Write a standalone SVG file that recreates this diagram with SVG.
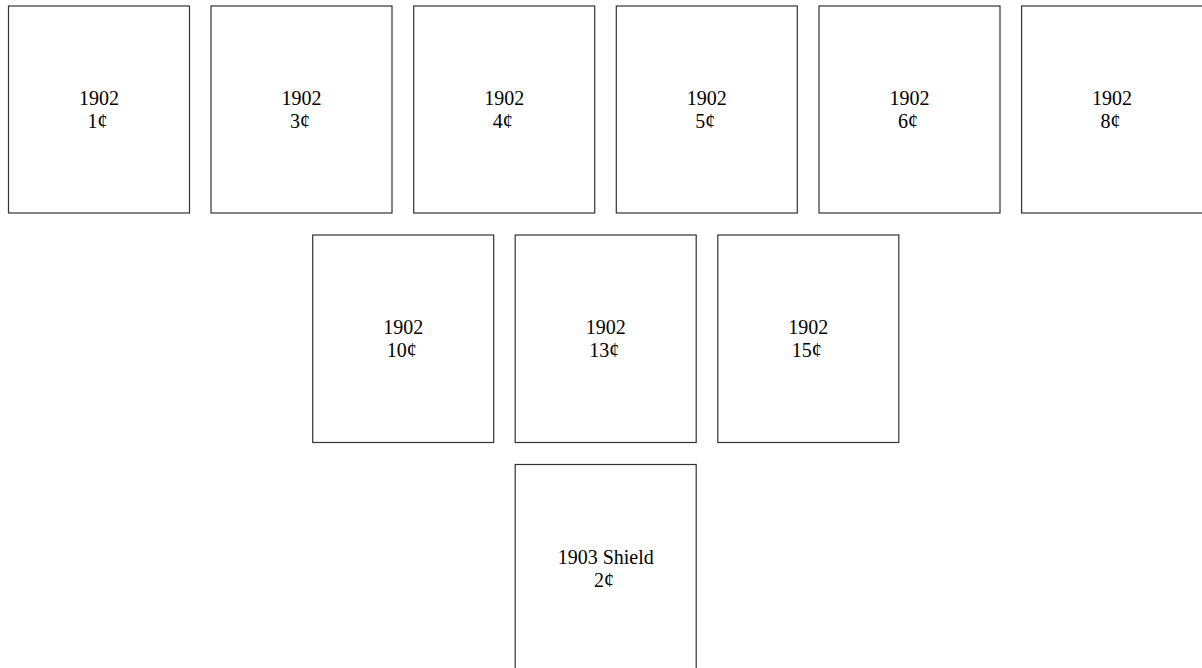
<svg xmlns="http://www.w3.org/2000/svg" width="1202" height="668" viewBox="0 0 1202 668">
<style>
.box{fill:#fff;stroke:#333;stroke-width:1.2}
.lbl{font-family:"Liberation Serif","Times New Roman",serif;font-size:20px;fill:#000;text-anchor:middle}
</style>
<rect width="1202" height="668" fill="#fff"/>
<g id="connectors"></g>
<g id="n1"><rect class="box" x="8.5" y="6" width="181" height="207"/><text class="lbl" x="99" y="105">1902</text><text class="lbl" x="97.5" y="128">1¢</text></g>
<g id="n3"><rect class="box" x="211" y="6" width="181" height="207"/><text class="lbl" x="301.5" y="105">1902</text><text class="lbl" x="300" y="128">3¢</text></g>
<g id="n4"><rect class="box" x="413.7" y="6" width="181" height="207"/><text class="lbl" x="504.2" y="105">1902</text><text class="lbl" x="502.7" y="128">4¢</text></g>
<g id="n5"><rect class="box" x="616.3" y="6" width="181" height="207"/><text class="lbl" x="706.8" y="105">1902</text><text class="lbl" x="705.3" y="128">5¢</text></g>
<g id="n6"><rect class="box" x="819" y="6" width="181" height="207"/><text class="lbl" x="909.5" y="105">1902</text><text class="lbl" x="908" y="128">6¢</text></g>
<g id="n8"><rect class="box" x="1021.6" y="6" width="181" height="207"/><text class="lbl" x="1112" y="105">1902</text><text class="lbl" x="1110.5" y="128">8¢</text></g>
<g id="n10"><rect class="box" x="312.7" y="235" width="181" height="207.5"/><text class="lbl" x="403.2" y="334">1902</text><text class="lbl" x="401.7" y="357">10¢</text></g>
<g id="n13"><rect class="box" x="515.2" y="235" width="181" height="207.5"/><text class="lbl" x="605.7" y="334">1902</text><text class="lbl" x="604.2" y="357">13¢</text></g>
<g id="n15"><rect class="box" x="717.8" y="235" width="181" height="207.5"/><text class="lbl" x="808.3" y="334">1902</text><text class="lbl" x="806.8" y="357">15¢</text></g>
<g id="n2"><rect class="box" x="515.2" y="464.5" width="181" height="220"/><text class="lbl" x="605.7" y="563.5">1903 Shield</text><text class="lbl" x="604" y="586.5">2¢</text></g>
</svg>
